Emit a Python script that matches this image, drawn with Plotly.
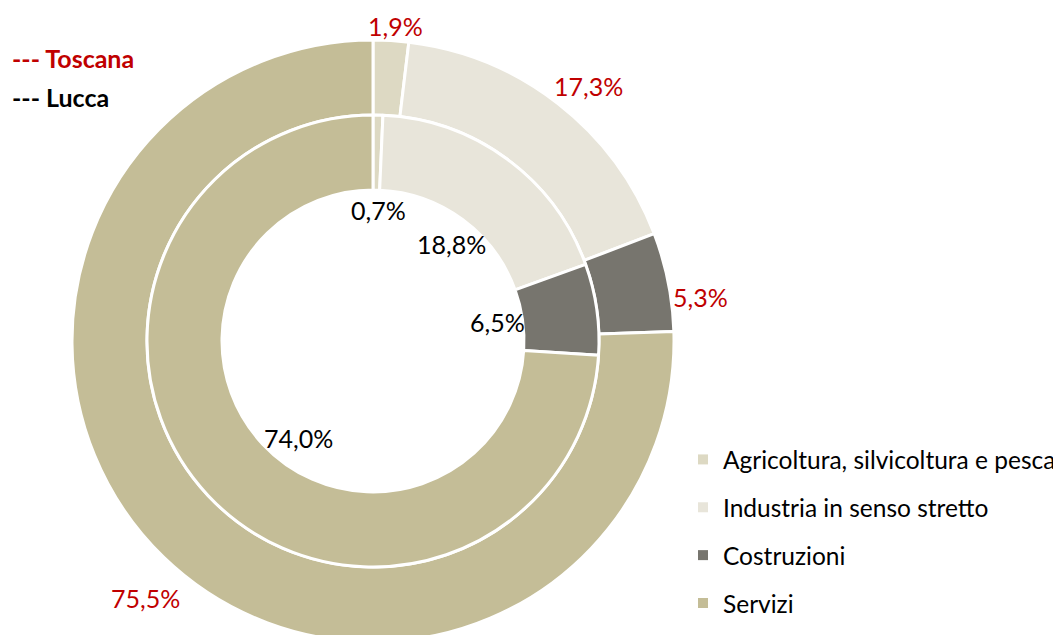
import plotly.graph_objects as go

categories = ["Agricoltura, silvicoltura e pesca", "Industria in senso stretto", "Costruzioni", "Servizi"]
toscana = [1.9, 17.3, 5.3, 75.5]
lucca = [0.7, 18.8, 6.5, 74.0]
colors = ["#DDD9C3", "#E8E5DA", "#77756E", "#C4BD97"]

W, H = 1061, 635
OFF = 8  # page body margin
FONT = "Lato"

def px(x, y):
    # page pixel -> paper coords
    return (x - OFF) / W, 1 - (y - OFF) / H

def fmt(v):
    return f"{v:.1f}%".replace(".", ",")

fig = go.Figure()

cx, cy = 373 - OFF, 341 - OFF
ro, ri, rh = 301, 226, 151
fig.add_trace(go.Pie(
    labels=categories, values=toscana, sort=False, direction="clockwise", rotation=0,
    hole=ri / ro, textinfo="none", hoverinfo="label+percent", showlegend=False,
    marker=dict(colors=colors, line=dict(color="white", width=3)),
    domain=dict(x=[(cx - ro) / W, (cx + ro) / W], y=[max(0, 1 - (cy + ro) / H), 1 - (cy - ro) / H]),
))
fig.add_trace(go.Pie(
    labels=categories, values=lucca, sort=False, direction="clockwise", rotation=0,
    hole=rh / ri, textinfo="none", hoverinfo="label+percent", showlegend=False,
    marker=dict(colors=colors, line=dict(color="white", width=3)),
    domain=dict(x=[(cx - ri) / W, (cx + ri) / W], y=[1 - (cy + ri) / H, 1 - (cy - ri) / H]),
))

for c, col in zip(categories, colors):
    fig.add_trace(go.Scatter(x=[None], y=[None], mode="markers", name=c, legendgroup=c,
                             marker=dict(symbol="square", size=10, color=col, line=dict(width=0))))

outer_pos = [(395, 26), (588, 86), (700, 297), (145, 598)]
inner_pos = [(378, 210), (451, 244), (497, 322), (298, 438)]
ann = []
for v, (x, y) in zip(toscana, outer_pos):
    ax, ay = px(x, y)
    ann.append(dict(x=ax, y=ay, xref="paper", yref="paper", text=fmt(v), showarrow=False,
                    xanchor="center", yanchor="middle",
                    font=dict(family=FONT, size=25, color="#C00000")))
for v, (x, y) in zip(lucca, inner_pos):
    ax, ay = px(x, y)
    ann.append(dict(x=ax, y=ay, xref="paper", yref="paper", text=fmt(v), showarrow=False,
                    xanchor="center", yanchor="middle",
                    font=dict(family=FONT, size=25, color="#000000")))
for txt, col, y in [("--- Toscana", "#C00000", 58), ("--- Lucca", "#000000", 97)]:
    ax, ay = px(10, y)
    ann.append(dict(x=ax, y=ay, xref="paper", yref="paper", text=f"<b>{txt}</b>", showarrow=False,
                    xanchor="left", yanchor="middle",
                    font=dict(family=FONT, size=25, color=col)))

lx, ly = px(683, 437)
fig.update_layout(
    width=W, height=H, margin=dict(l=0, r=0, t=0, b=0, autoexpand=False),
    paper_bgcolor="white", plot_bgcolor="white",
    xaxis=dict(visible=False), yaxis=dict(visible=False),
    annotations=ann,
    legend=dict(x=lx, y=ly, xanchor="left", yanchor="top", tracegroupgap=13,
                font=dict(family=FONT, size=24.5, color="#000000"), itemwidth=30,
                bgcolor="rgba(0,0,0,0)"),
)
fig.write_html("out.html")
